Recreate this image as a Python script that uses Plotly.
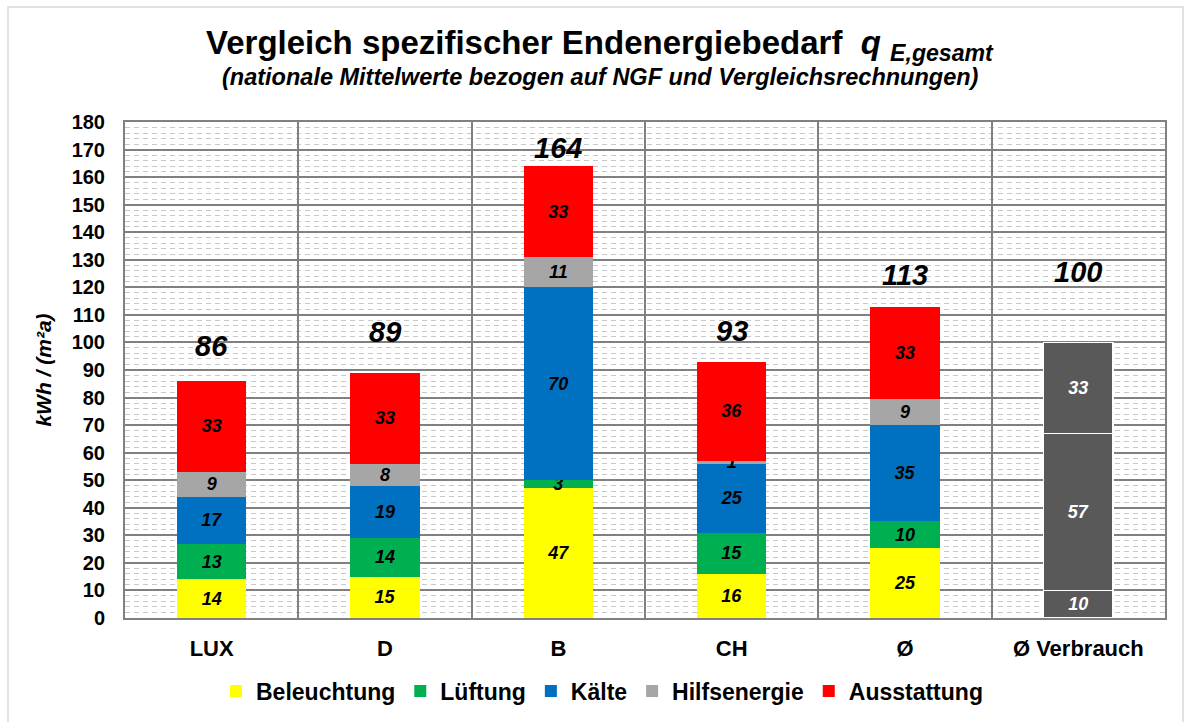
import plotly.graph_objects as go

categories = ["LUX", "D", "B", "CH", "Ø"]
beleuchtung = [14, 15, 47, 16, 25.4]
lueftung = [13, 14, 3, 15, 9.8]
kaelte = [17, 19, 70, 25, 35.0]
hilfsenergie = [9, 8, 11, 1, 9.4]
ausstattung = [33, 33, 33, 36, 33.4]

verbrauch_cat = "Ø Verbrauch"
verbrauch_parts = [10, 57, 33]

all_categories = categories + [verbrauch_cat]
y_ticks = list(range(0, 181, 10))

series = [
    ("Beleuchtung", beleuchtung, "#FFFF00"),
    ("Lüftung", lueftung, "#00B050"),
    ("Kälte", kaelte, "#0070C0"),
    ("Hilfsenergie", hilfsenergie, "#A6A6A6"),
    ("Ausstattung", ausstattung, "#FF0000"),
]

FONT = "Liberation Sans, Arial, sans-serif"
W, H = 1188, 722
L, R, T, B = 125, 23, 122, 104
pw, ph = W - L - R, H - T - B

fig = go.Figure()
for name, vals, col in series:
    fig.add_trace(go.Bar(
        name=name, x=categories, y=vals,
        marker=dict(color=col, line=dict(width=0)),
        width=0.4,
        text=[f"{v:.0f}" for v in vals],
        textposition="inside", insidetextanchor="middle", textangle=0,
        textfont=dict(family=FONT, size=18, color="black", style="italic", weight="bold"),
    ))

for v in verbrauch_parts:
    fig.add_trace(go.Bar(
        x=[verbrauch_cat], y=[v], showlegend=False,
        marker=dict(color="#595959", line=dict(color="white", width=1.5)),
        width=0.4,
        text=[f"{v:.0f}"],
        textposition="inside", insidetextanchor="middle", textangle=0,
        textfont=dict(family=FONT, size=18, color="white", style="italic", weight="bold"),
    ))

totals = [b + l + k + h + a for b, l, k, h, a in zip(beleuchtung, lueftung, kaelte, hilfsenergie, ausstattung)]
totals.append(sum(verbrauch_parts))
label_shift = [35, 41, 18, 31, 32, 70]
for cat, tot, sh in zip(all_categories, totals, label_shift):
    fig.add_annotation(
        x=cat, y=tot, text=f"<b><i>{tot:.0f}</i></b>", showarrow=False,
        yshift=sh, font=dict(family=FONT, size=29, color="black"),
    )

fig.add_annotation(
    xref="paper", yref="paper", x=(600 - L) / pw, y=1 + (T - 45) / ph,
    text="<b>Vergleich spezifischer Endenergiebedarf  <i>q</i> <sub><i>E,gesamt</i></sub></b>",
    showarrow=False, font=dict(family=FONT, size=33, color="black"), yanchor="middle",
)
fig.add_annotation(
    xref="paper", yref="paper", x=(600 - L) / pw, y=1 + (T - 77) / ph,
    text="<b><i>(nationale Mittelwerte bezogen auf NGF und Vergleichsrechnungen)</i></b>",
    showarrow=False, font=dict(family=FONT, size=23.5, color="black"), yanchor="middle",
)

fig.add_shape(
    type="rect", xref="paper", yref="paper",
    x0=(8 - L) / pw, x1=(1183 - L) / pw, y0=-(730 - H + B) / ph, y1=1 + (T - 7) / ph,
    line=dict(color="#D9D9D9", width=1.5), layer="below",
)

fig.update_layout(
    width=W, height=H,
    barmode="stack",
    plot_bgcolor="white", paper_bgcolor="white",
    margin=dict(l=L, r=R, t=T, b=B, pad=0, autoexpand=False),
    font=dict(family=FONT, color="black"),
    uniformtext=dict(mode="show", minsize=18),
    legend=dict(
        orientation="h", x=(602 - L) / pw, xanchor="center", y=-(691 - H + B) / ph, yanchor="middle",
        traceorder="normal", font=dict(family=FONT, size=23, weight="bold"),
        itemwidth=30, itemsizing="constant",
    ),
    showlegend=True,
)
fig.update_yaxes(
    range=[0, 180], tickvals=y_ticks, ticktext=[str(t) for t in y_ticks],
    showgrid=True, gridcolor="#808080", gridwidth=2,
    minor=dict(dtick=2, showgrid=True, gridcolor="#C8C8C8", gridwidth=1, griddash="5px,4px"),
    showline=True, linecolor="#808080", linewidth=2, mirror=True,
    tickfont=dict(family=FONT, size=20, weight="bold"),
    ticks="", ticklabelstandoff=14, automargin=False,
    title=dict(text="<b><i>kWh / (m²a)</i></b>", font=dict(family=FONT, size=21), standoff=14),
    zeroline=False,
)
fig.update_xaxes(
    categoryorder="array", categoryarray=all_categories,
    tickson="boundaries", showgrid=True, gridcolor="#808080", gridwidth=2,
    showline=True, linecolor="#808080", linewidth=2, mirror=True,
    tickfont=dict(family=FONT, size=22, weight="bold"), ticks="",
    ticklabelstandoff=10, automargin=False,
)

fig.write_html("out.html", config={"displayModeBar": False},
               post_script="document.body.style.margin='0';")
